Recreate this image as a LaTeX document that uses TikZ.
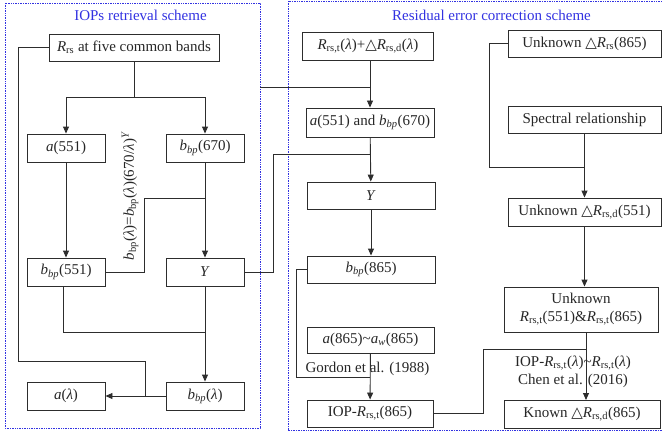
\documentclass[tikz,border=0pt]{standalone}
\usepackage{fontspec}
\setmainfont{Liberation Serif}
\newfontfamily\symfont{DejaVu Sans}
\usetikzlibrary{arrows.meta,calc}

% inline notation
\newcommand{\myRrs}{\textit{R}\textsubscript{rs}}
\newcommand{\myRrst}{\textit{R}\textsubscript{rs,t}}
\newcommand{\myRrsd}{\textit{R}\textsubscript{rs,d}}
\newcommand{\mybbp}{\textit{b}\textsubscript{\textit{bp}}}
\newcommand{\mybbpup}{\textit{b}\textsubscript{bp}}
\newcommand{\mylam}{\textit{λ}}
\newcommand{\mytri}{{\symfont\fontsize{15}{17}\selectfont △}}

\definecolor{panelblue}{RGB}{50,50,225}
\definecolor{linegray}{RGB}{45,45,45}

\begin{document}
\begin{tikzpicture}[x=1pt,y=-1pt,
  every node/.style={font=\fontsize{15}{19}\selectfont, text=black!85},
  box/.style={draw=linegray, line width=0.9pt, inner sep=0pt, align=center},
  conn/.style={draw=linegray, line width=0.9pt},
  arr/.style={conn, -{Triangle[length=7pt,width=6pt]}},
  panel/.style={draw=panelblue, line width=0.7pt, densely dotted},
  title/.style={text=panelblue}]
\useasboundingbox (0,0) rectangle (662,436);

% panels
\draw[panel] (5,3) rectangle (260,428);
\draw[panel] (288,1) rectangle (668,430);
\node[title] (t1) at (140.5,15) {IOPs retrieval scheme};
\node[title] (t2) at (491.5,15) {Residual error correction scheme};

% ---- IOPs retrieval scheme ----
\node[box, minimum width=170, minimum height=27] (rrs) at (134,47.5) {\myRrs{} at five common bands};
\node[box, minimum width=78, minimum height=28] (a551) at (66,148) {\textit{a}(551)};
\node[box, minimum width=78, minimum height=28] (b670) at (205,148) {\mybbp(670)};
\node[box, minimum width=78, minimum height=28] (b551) at (66,272) {\mybbp(551)};
\node[box, minimum width=78, minimum height=28] (yl) at (205,272) {\textit{Y}};
\node[box, minimum width=78, minimum height=28] (alam) at (66,396) {\textit{a}(\mylam)};
\node[box, minimum width=78, minimum height=28] (blam) at (205,396) {\mybbp(\mylam)};
\node[rotate=90] (law) at (130,196) {\mybbpup(\mylam)=\mybbpup(\mylam)(670/\mylam)\textsuperscript{\textit{Y}}};

\coordinate (j1) at (134,97);
\draw[conn] (rrs.south) -- (j1);
\draw[arr] (j1) -| (a551.north);
\draw[arr] (j1) -| (b670.north);
\draw[arr] (a551) -- (b551);
\draw[arr] (b670) -- (yl);
\draw[conn] (b551.east) -| (144,198) -- (205,198);
\draw[conn] (b551.south -| 63,0) -- (63,332) -- (205,332);
\draw[arr] (yl) -- (blam);
\draw[arr] (blam) -- (alam);
\draw[conn] (rrs.west) -| (18,361) -- (145,361) -- (145,396);

% ---- Residual error correction scheme ----
\node[box, minimum width=131, minimum height=28] (rsum) at (368,46) {\myRrst(\mylam)+\mytri\myRrsd(\mylam)};
\node[box, minimum width=128, minimum height=29] (ab) at (370,122.5) {\textit{a}(551) and \mybbp(670)};
\node[box, minimum width=128, minimum height=27] (yr) at (371,195.5) {\textit{Y}};
\node[box, minimum width=128, minimum height=27] (b865) at (371,269.5) {\mybbp(865)};
\node[box, minimum width=127, minimum height=26] (a865) at (370.5,340) {\textit{a}(865)\textasciitilde\textit{a}\textsubscript{\textit{w}}(865)};
\node (gordon) at (367.5,369) {Gordon et al. (1988)};
\node[box, minimum width=126, minimum height=27] (iop) at (370,413.5) {IOP-\myRrst(865)};

\node[box, minimum width=153, minimum height=27] (u865) at (584.5,43.5) {Unknown \mytri\myRrs(865)};
\node[box, minimum width=153, minimum height=27] (spec) at (584.5,119.5) {Spectral relationship};
\node[box, minimum width=153, minimum height=28] (u551) at (584.5,212) {Unknown \mytri\myRrsd(551)};
\node[box, minimum width=154, minimum height=45] (ut) at (581,309.5) {Unknown\\[-1pt]\myRrst(551)\&\myRrst(865)};
\node (chen) at (573,372) [align=center] {IOP-\myRrst(\mylam)\textasciitilde\myRrst(\mylam)\\[-1pt]Chen et al. (2016)};
\node[box, minimum width=156, minimum height=28] (known) at (582,414) {Known \mytri\myRrsd(865)};

% links between the two schemes
\draw[conn] (260,87) -- (370,87);
\draw[conn] (yl.east) -- (273,272) -- (273,154) -- (370,154);

\draw[arr] (rsum.south -| ab.north) -- (ab.north);
\draw[arr] (ab) -- (yr);
\draw[arr] (yr) -- (b865);
\draw[conn] (b865.west) -- (296,269.5) -- (296,377) -- (370,377);
\draw[arr] (a865) -- (iop);
\draw[conn] (iop.east) -- (483,413.5) -- (483,349) -- (586,349);

\draw[conn] (u865.west) -- (489,43.5) -- (489,167) -- (584.5,167);
\draw[arr] (spec) -- (u551);
\draw[arr] (u551.south) -- (u551.south |- ut.north);
\draw[arr] (586,332) -- (586,400);
\end{tikzpicture}
\end{document}
